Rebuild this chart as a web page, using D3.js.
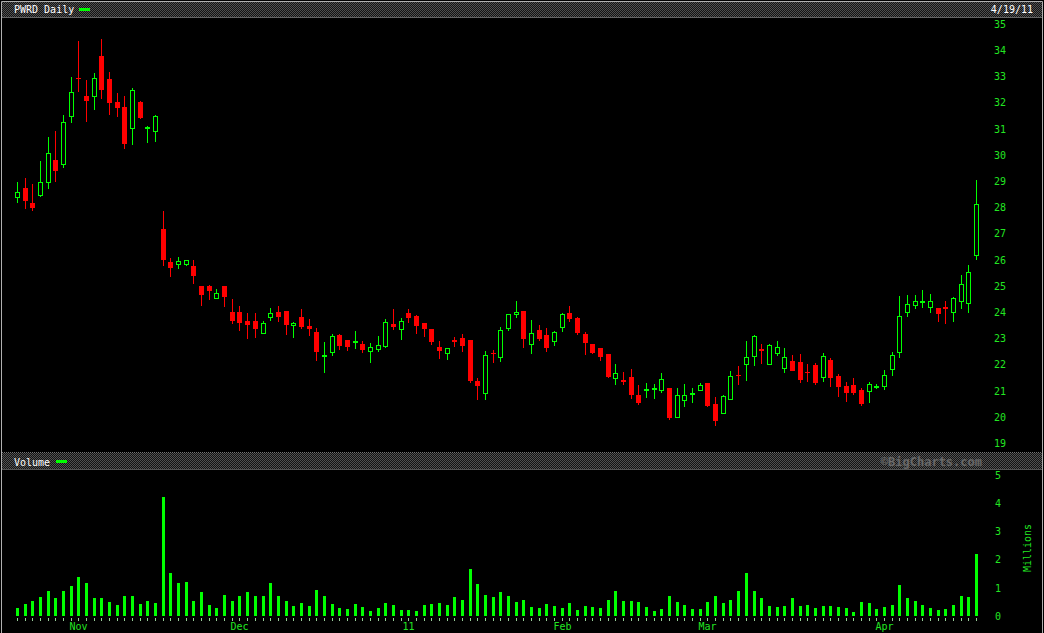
<!DOCTYPE html>
<html><head><meta charset="utf-8">
<script src="https://cdn.jsdelivr.net/npm/d3@7/dist/d3.min.js"></script>
<style>
html,body{margin:0;padding:0;background:#000;}
svg{display:block;}
text{font-family:"DejaVu Sans Mono",monospace;}
</style></head>
<body>
<svg id="chart" width="1044" height="633"></svg>
<script>
// ---------- DATA ----------
const dates = [
"2010-10-20","2010-10-21","2010-10-22","2010-10-25","2010-10-26","2010-10-27","2010-10-28","2010-10-29",
"2010-11-01","2010-11-02","2010-11-03","2010-11-04","2010-11-05","2010-11-08","2010-11-09","2010-11-10","2010-11-11","2010-11-12",
"2010-11-15","2010-11-16","2010-11-17","2010-11-18","2010-11-19","2010-11-22","2010-11-23","2010-11-24","2010-11-26","2010-11-29","2010-11-30",
"2010-12-01","2010-12-02","2010-12-03","2010-12-06","2010-12-07","2010-12-08","2010-12-09","2010-12-10","2010-12-13","2010-12-14","2010-12-15",
"2010-12-16","2010-12-17","2010-12-20","2010-12-21","2010-12-22","2010-12-23","2010-12-27","2010-12-28","2010-12-29","2010-12-30","2010-12-31",
"2011-01-03","2011-01-04","2011-01-05","2011-01-06","2011-01-07","2011-01-10","2011-01-11","2011-01-12","2011-01-13","2011-01-14",
"2011-01-18","2011-01-19","2011-01-20","2011-01-21","2011-01-24","2011-01-25","2011-01-26","2011-01-27","2011-01-28","2011-01-31",
"2011-02-01","2011-02-02","2011-02-03","2011-02-04","2011-02-07","2011-02-08","2011-02-09","2011-02-10","2011-02-11","2011-02-14",
"2011-02-15","2011-02-16","2011-02-17","2011-02-18","2011-02-22","2011-02-23","2011-02-24","2011-02-25","2011-02-28",
"2011-03-01","2011-03-02","2011-03-03","2011-03-04","2011-03-07","2011-03-08","2011-03-09","2011-03-10","2011-03-11","2011-03-14",
"2011-03-15","2011-03-16","2011-03-17","2011-03-18","2011-03-21","2011-03-22","2011-03-23","2011-03-24","2011-03-25","2011-03-28",
"2011-03-29","2011-03-30","2011-03-31",
"2011-04-01","2011-04-04","2011-04-05","2011-04-06","2011-04-07","2011-04-08","2011-04-11","2011-04-12","2011-04-13","2011-04-14",
"2011-04-15","2011-04-18","2011-04-19"];

const open = [28.39,28.74,28.18,28.45,28.95,29.81,29.63,31.47,32.95,32.26,32.24,33.78,32.90,32.03,31.84,31.02,32.03,31.03,30.91,
27.18,25.92,25.81,25.82,25.77,25.00,25.00,24.52,25.00,24.02,24.02,23.68,23.68,23.20,23.81,24.02,24.05,23.49,23.82,23.49,23.25,
22.33,22.46,23.13,22.94,22.86,22.79,22.51,22.57,22.69,23.55,23.34,23.97,23.86,23.59,23.36,22.69,22.42,22.94,23.02,22.94,
21.38,20.91,22.46,22.27,23.37,23.91,24.05,22.78,23.32,23.13,22.89,23.41,23.97,23.78,23.17,22.79,22.64,22.41,21.47,21.41,
21.53,20.84,21.03,21.07,21.03,21.11,19.98,20.63,20.87,21.01,21.30,20.50,20.13,20.66,21.61,22.00,22.31,22.59,22.00,22.42,
21.85,22.14,22.10,21.73,22.00,21.50,22.18,21.57,21.19,21.22,21.03,20.97,21.15,21.16,21.82,22.47,24.00,24.27,24.38,24.19,
24.16,24.19,24.00,24.42,24.34,26.18];
const high = [28.98,29.14,28.91,29.77,30.69,30.92,31.53,32.98,34.36,32.87,33.13,34.43,33.17,32.37,32.26,32.56,32.06,31.11,31.53,
27.87,26.07,26.11,26.00,26.00,25.00,25.04,24.89,25.00,24.51,24.25,23.97,23.97,23.67,24.16,24.24,24.05,23.64,24.13,23.74,23.40,
22.87,23.17,23.17,22.95,23.29,22.90,22.83,23.10,23.74,24.13,23.78,24.13,23.90,23.59,23.36,22.90,22.65,23.06,23.17,22.94,
21.49,22.52,22.56,23.44,23.90,24.43,24.05,23.70,23.52,23.40,23.29,23.97,24.24,23.82,23.25,22.79,22.64,22.41,22.03,21.72,
21.83,21.22,21.30,21.26,21.68,21.11,21.11,21.26,21.11,21.30,21.30,20.77,20.84,21.76,21.95,22.90,23.13,22.79,22.78,22.90,
22.64,22.37,22.41,22.03,22.07,22.45,22.26,21.65,21.34,21.49,21.11,21.34,21.25,21.80,22.48,24.62,24.66,24.66,24.85,24.70,
24.16,24.43,24.57,25.41,25.79,29.04];
const low = [28.18,27.95,27.88,28.41,28.72,28.98,29.52,31.24,32.42,31.27,31.73,32.14,31.53,31.45,30.24,30.40,31.39,30.47,30.51,
25.77,25.36,25.66,25.78,25.09,24.25,24.48,24.52,24.21,23.57,23.29,22.99,23.03,23.18,23.68,23.64,23.15,23.03,23.37,23.11,22.14,
21.69,22.34,22.57,22.53,22.61,22.46,22.08,22.50,22.65,23.34,22.95,23.59,23.18,23.07,22.76,22.23,22.19,22.69,22.50,21.31,
20.66,20.66,22.08,22.11,23.30,23.79,22.64,22.42,22.90,22.50,22.72,23.26,23.64,23.15,22.38,22.42,22.15,21.50,21.24,21.24,
20.70,20.47,20.74,20.70,20.93,19.90,19.98,20.40,20.52,21.01,20.40,19.67,20.13,20.66,21.23,21.39,21.96,22.04,22.00,22.34,
21.69,21.76,21.31,21.34,21.24,21.34,21.14,20.77,20.59,20.84,20.44,20.55,21.06,21.05,21.58,22.27,23.83,24.14,24.18,23.98,
23.64,23.57,23.64,24.14,23.98,26.01];
const close = [28.58,28.26,27.99,28.96,30.07,29.40,31.25,32.40,32.92,32.08,32.93,32.50,32.00,31.81,30.43,32.48,31.43,31.06,31.48,
26.01,25.70,25.92,25.96,25.40,24.67,24.82,24.70,24.60,23.68,23.60,23.53,23.37,23.58,23.96,23.83,23.53,23.58,23.45,23.37,22.50,
22.36,23.06,22.72,22.69,22.89,22.57,22.66,22.74,23.62,23.45,23.66,23.78,23.49,23.37,22.88,22.53,22.63,22.90,22.72,21.39,
21.20,22.37,22.42,23.32,23.90,24.00,22.98,23.20,22.98,22.64,23.21,23.90,23.76,23.22,22.84,22.46,22.31,21.54,21.68,21.37,
20.85,20.55,21.06,21.10,21.42,19.98,20.83,20.81,20.90,21.22,20.44,19.86,20.77,21.56,21.57,22.28,23.06,22.55,22.74,22.66,
22.26,21.76,21.42,21.69,21.31,22.33,21.50,21.16,20.93,20.92,20.51,21.25,21.17,21.59,22.36,23.85,24.31,24.42,24.40,24.42,
23.95,24.11,24.53,25.07,25.53,28.12];
// volume in millions
const volume = [0.30,0.44,0.54,0.69,0.90,0.65,0.90,1.08,1.39,1.18,0.65,0.65,0.51,0.40,0.72,0.72,0.44,0.54,0.47,
4.23,1.54,1.18,1.22,0.54,0.86,0.40,0.30,0.76,0.54,0.72,0.86,0.72,0.72,1.18,0.72,0.54,0.37,0.47,0.37,0.93,
0.72,0.44,0.30,0.26,0.44,0.33,0.19,0.30,0.47,0.40,0.22,0.22,0.19,0.40,0.44,0.47,0.40,0.69,0.58,1.68,
1.15,0.76,0.69,0.86,0.72,0.51,0.58,0.33,0.30,0.44,0.37,0.30,0.47,0.22,0.37,0.33,0.30,0.58,0.90,0.54,
0.54,0.51,0.33,0.19,0.26,0.72,0.51,0.40,0.26,0.26,0.51,0.72,0.47,0.58,0.90,1.54,0.90,0.65,0.37,0.33,
0.37,0.65,0.37,0.40,0.30,0.37,0.37,0.33,0.30,0.15,0.51,0.47,0.26,0.33,0.40,1.11,0.65,0.54,0.40,0.30,
0.22,0.26,0.40,0.72,0.69,2.21];

const monthTickDates = ["2010-11-01","2010-12-01","2011-01-03","2011-02-01","2011-03-01","2011-04-01"];
const monthTickLabels = ["Nov","Dec","11","Feb","Mar","Apr"];
const priceTicks = [19,20,21,22,23,24,25,26,27,28,29,30,31,32,33,34,35];
const volumeTicks = [0,1,2,3,4,5];
const title = "PWRD Daily";
const dateLabel = "4/19/11";

// ---------- DRAW ----------
const svg = d3.select("#chart");
const W = 1044, H = 633;
const GREEN = "#00ff00", RED = "#ff0000", LABEL = "#22e622";

const defs = svg.append("defs");
const pat = defs.append("pattern").attr("id","checker").attr("width",2).attr("height",2)
  .attr("patternUnits","userSpaceOnUse");
pat.append("rect").attr("width",2).attr("height",2).attr("fill","#141414");
pat.append("rect").attr("x",0).attr("y",0).attr("width",1).attr("height",1).attr("fill","#505050");
pat.append("rect").attr("x",1).attr("y",1).attr("width",1).attr("height",1).attr("fill","#505050");

svg.append("rect").attr("width",W).attr("height",H).attr("fill","#000");

// header bars
svg.append("rect").attr("x",2).attr("y",2).attr("width",1040).attr("height",15).attr("fill","url(#checker)");
svg.append("line").attr("x1",2).attr("x2",1042).attr("y1",17.5).attr("y2",17.5).attr("stroke","#666");
svg.append("rect").attr("x",2).attr("y",453).attr("width",1040).attr("height",16).attr("fill","url(#checker)");
svg.append("line").attr("x1",2).attr("x2",1042).attr("y1",452.5).attr("y2",452.5).attr("stroke","#777").attr("stroke-dasharray","1,1");
svg.append("line").attr("x1",2).attr("x2",1042).attr("y1",469.5).attr("y2",469.5).attr("stroke","#555");

// frame
svg.append("path").attr("d","M1.5,633 V1.5 H1042.5 V633").attr("fill","none").attr("stroke","#b0b0b0");

// header texts
svg.append("text").attr("x",14).attr("y",13).attr("fill","#fff").attr("font-size",10).text(title);
svg.append("rect").attr("x",79).attr("y",8).attr("width",11).attr("height",3).attr("fill",GREEN);
svg.append("text").attr("x",1033).attr("y",13).attr("text-anchor","end").attr("fill","#fff").attr("font-size",10).text(dateLabel);
svg.append("text").attr("x",14).attr("y",465.5).attr("fill","#fff").attr("font-size",10).text("Volume");
svg.append("rect").attr("x",56).attr("y",460).attr("width",11).attr("height",3).attr("fill",GREEN);
svg.append("text").attr("x",982).attr("y",466).attr("text-anchor","end").attr("fill","#707070")
  .attr("font-family","'Liberation Sans',Arial,sans-serif").attr("font-weight","bold").attr("font-size",12)
  .attr("stroke","#4a4a4a").attr("stroke-width",0.4).text("\u00A9BigCharts.com");

// scales
const x = d3.scalePoint().domain(dates).range([17.5, 976.5]);
const px = d => Math.floor(x(d)) + 0.5;
const y = d3.scaleLinear().domain([19, 35]).range([443.3, 24.1]);
const yv = d3.scaleLinear().domain([0, 5]).range([616, 475]);

// price axis
const yAxis = d3.axisRight(y).tickValues(priceTicks).tickSize(0).tickPadding(0).tickFormat(d3.format("d"));
const ga = svg.append("g").attr("transform","translate(994,0)").call(yAxis);
ga.select(".domain").remove();
ga.selectAll("text").attr("fill",LABEL).attr("font-size",10).attr("font-family","'DejaVu Sans Mono',monospace");

// volume axis
const vAxis = d3.axisRight(yv).tickValues(volumeTicks).tickSize(0).tickPadding(0).tickFormat(d3.format("d"));
const gv = svg.append("g").attr("transform","translate(995,0)").call(vAxis);
gv.select(".domain").remove();
gv.selectAll("text").attr("fill",LABEL).attr("font-size",10).attr("font-family","'DejaVu Sans Mono',monospace");
svg.append("text").attr("transform","translate(1031,548) rotate(-90)").attr("text-anchor","middle")
  .attr("fill",LABEL).attr("font-size",10).text("Millions");

// candles
const data = dates.map((d,i)=>({d, o:open[i], h:high[i], l:low[i], c:close[i], v:volume[i]}));
const gc = svg.append("g").attr("shape-rendering","crispEdges");
data.forEach(k => {
  const cx = px(k.d);
  const up = k.c >= k.o;
  const top = y(Math.max(k.o,k.c)), bot = y(Math.min(k.o,k.c));
  const hY = y(k.h), lY = y(k.l);
  const bh = Math.max(bot - top, 1);
  if (up) {
    gc.append("line").attr("x1",cx).attr("x2",cx).attr("y1",hY).attr("y2",top).attr("stroke",GREEN);
    gc.append("line").attr("x1",cx).attr("x2",cx).attr("y1",top+bh).attr("y2",lY).attr("stroke",GREEN);
    gc.append("rect").attr("x",cx-2).attr("y",top).attr("width",4).attr("height",bh)
      .attr("fill","none").attr("stroke",GREEN);
  } else {
    gc.append("line").attr("x1",cx).attr("x2",cx).attr("y1",hY).attr("y2",lY).attr("stroke",RED);
    gc.append("rect").attr("x",cx-2.5).attr("y",top).attr("width",5).attr("height",Math.max(bh,1.5))
      .attr("fill",RED);
  }
});

// volume bars
svg.append("g").attr("shape-rendering","crispEdges").selectAll("rect").data(data).join("rect")
  .attr("x",d=>px(d.d)-1.5).attr("width",3)
  .attr("y",d=>yv(d.v)).attr("height",d=>yv(0)-yv(d.v)).attr("fill",GREEN);

// x axis ticks and month labels
const xAxis = d3.axisBottom(x).tickValues(dates).tickSize(3).tickFormat("");
const gx = svg.append("g").attr("transform","translate(0,618)").attr("shape-rendering","crispEdges").call(xAxis);
gx.select(".domain").remove();
gx.selectAll(".tick").attr("transform", d => `translate(${px(d)},0)`);
gx.selectAll(".tick line").attr("stroke","#99cc99");
monthTickDates.forEach((d,i)=>{
  svg.append("text").attr("x",px(d)).attr("y",629.5).attr("text-anchor","middle")
    .attr("fill",LABEL).attr("font-size",10).text(monthTickLabels[i]);
});
</script>
</body></html>
